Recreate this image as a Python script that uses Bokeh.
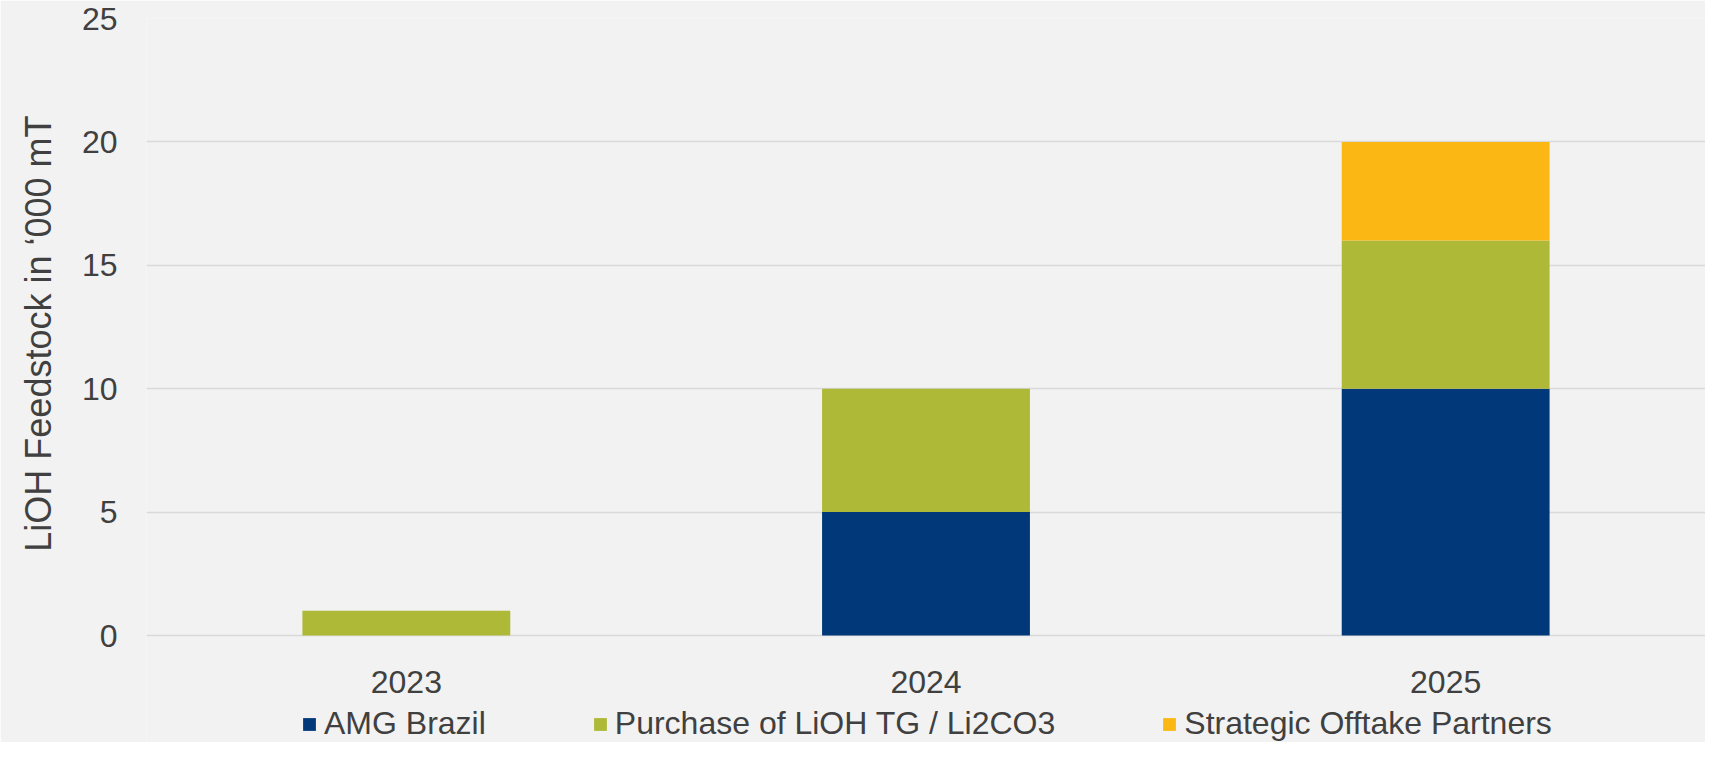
from bokeh.plotting import figure
from bokeh.models import FactorRange, Range1d, Legend, LegendItem, Title
from bokeh.embed import file_html
from bokeh.resources import INLINE

years = ["2023", "2024", "2025"]
amg_brazil = [0, 5, 10]
purchase = [1, 5, 6]
strategic = [0, 0, 4]
series_names = ["AMG Brazil", "Purchase of LiOH TG / Li2CO3", "Strategic Offtake Partners"]
colors = ["#00387A", "#ADB937", "#FBB815"]
y_ticks = [0, 5, 10, 15, 20, 25]
y_title = "LiOH Feedstock  in \u2018000 mT"

FONT = "Liberation Sans"
TXT = "#404040"
BG = "#F2F2F2"

# layout: plot area spans 617px for 0..25, with 107px of extra room below 0 for the legend
top_px, zero_px, bottom_px = 18, 635, 742
y_max = 25
y_min = -y_max * (bottom_px - zero_px) / (zero_px - top_px)

p = figure(x_range=FactorRange(*years, range_padding=0), y_range=Range1d(y_min, y_max),
           width=1705, height=bottom_px, output_backend="svg", toolbar_location=None,
           min_border_left=139, min_border_right=0, min_border_top=top_px, min_border_bottom=0)
p.background_fill_color = BG
p.border_fill_color = BG
p.outline_line_color = None

source = dict(years=years, amg=amg_brazil, pur=purchase, stra=strategic)
renderers = p.vbar_stack(["amg", "pur", "stra"], x="years", width=0.4, color=colors,
                         line_color=None, source=source)

p.yaxis.ticker = y_ticks
p.yaxis.major_label_standoff = 29
p.xaxis.fixed_location = 0
p.xaxis.major_label_standoff = 35

for ax in (p.xaxis, p.yaxis):
    ax.axis_line_color = None
    ax.major_tick_line_color = None
    ax.minor_tick_line_color = None
    ax.major_tick_out = 0
    ax.major_tick_in = 0
    ax.minor_tick_out = 0
    ax.major_label_text_font = FONT
    ax.major_label_text_font_size = "32px"
    ax.major_label_text_color = TXT

p.xgrid.grid_line_color = None
p.ygrid.ticker = y_ticks
p.ygrid.grid_line_color = "#D9D9D9"
p.ygrid.grid_line_width = 1.5

ylab = Title(text=y_title, align="right", offset=87, standoff=35, vertical_align="top",
             text_font=FONT, text_font_size="36px", text_font_style="normal", text_color=TXT)
p.add_layout(ylab, "left")

legend = Legend(items=[LegendItem(label=n, renderers=[r]) for n, r in zip(series_names, renderers)],
                orientation="horizontal", location=(155, 0),
                glyph_width=16, glyph_height=16, label_standoff=7, spacing=106,
                padding=0, margin=0, border_line_color=None, background_fill_alpha=0,
                label_text_font=FONT, label_text_font_size="32px", label_text_color=TXT)
p.add_layout(legend, "center")

open("out.html", "w").write(file_html(p, INLINE))
